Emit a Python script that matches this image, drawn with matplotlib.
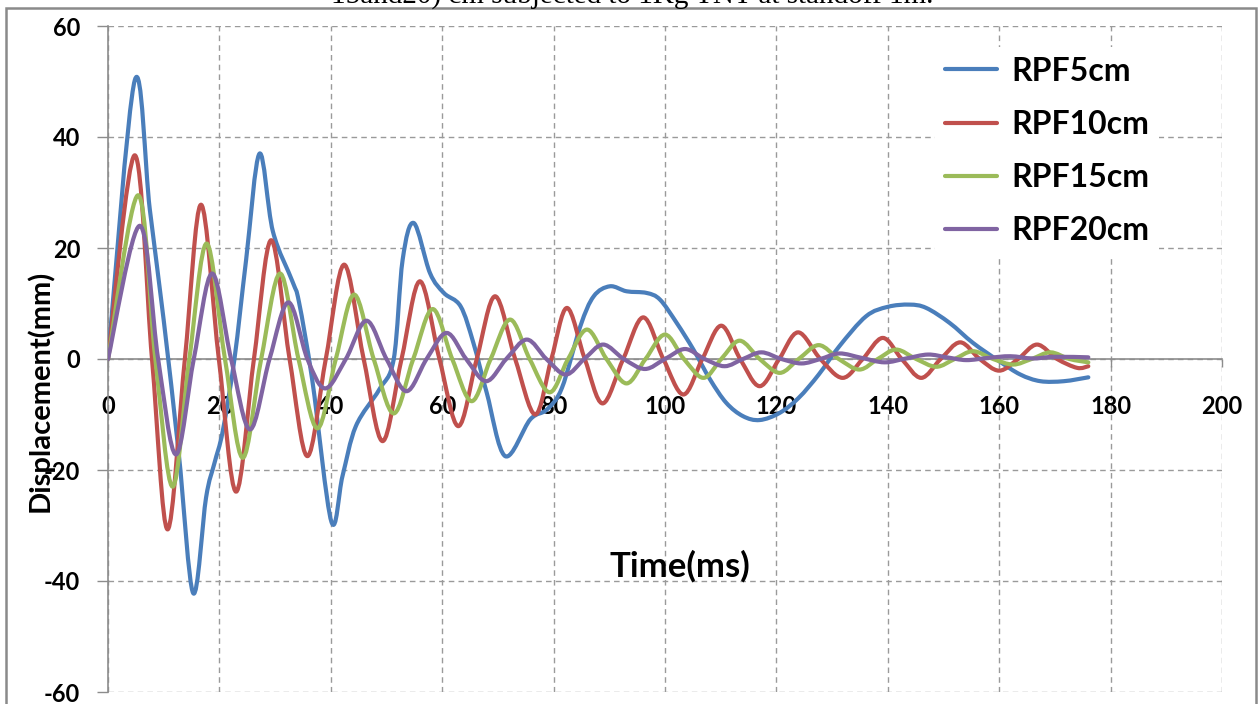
import matplotlib
matplotlib.use("Agg")
import matplotlib.pyplot as plt
from matplotlib.path import Path
from matplotlib.patches import PathPatch, Rectangle
from matplotlib.lines import Line2D

plt.rcParams["axes.unicode_minus"] = False

# ---------------- data ----------------
series_names = ["RPF5cm", "RPF10cm", "RPF15cm", "RPF20cm"]
series_colors = ["#4A7EBB", "#C0504D", "#9BBB59", "#8064A2"]

t_5 = [0, 4.8, 7.5, 10.0, 12.7, 15.3, 17.6, 19.1, 20.6, 22.7, 24.8, 27.2, 29.6,
       33.1, 34.3, 36.7, 40.1, 42.1, 44.5, 48.7, 51.3, 52.9, 54.9, 57.8, 60.3,
       63.3, 65.6, 68.0, 71.3, 75.8, 78.8, 81.5, 84.8, 87.2, 90.1, 93.1, 96.7,
       99.1, 102.1, 105.1, 108.1, 111.0, 114.0, 117.0, 120.6, 124.0, 127.6,
       131.3, 136.1, 140.0, 143.9, 146.9, 151.1, 155.3, 160.0, 163.8, 167.4,
       171.6, 176.0]
v_5 = [0, 50.2, 27.0, 7.0, -17.0, -42.2, -25.0, -18.8, -13.0, 0.0, 17.9, 37.0,
       23.0, 14.0, 10.2, -4.0, -29.3, -21.1, -12.1, -5.5, 0.0, 17.9, 24.5, 15.5,
       11.9, 9.5, 2.9, -6.1, -17.5, -10.9, -9.1, -5.2, 5.9, 11.3, 13.1, 12.2,
       11.9, 10.7, 6.5, 1.7, -3.7, -7.9, -10.3, -11.0, -9.7, -7.0, -2.8, 2.3,
       7.7, 9.4, 9.8, 9.2, 6.5, 2.9, -0.4, -2.8, -4.0, -4.0, -3.3]

t_10 = [0, 4.8, 7.9, 10.7, 13.8, 16.7, 19.9, 23.0, 26.2, 29.3, 32.6, 35.8, 39.1,
        42.4, 45.9, 49.3, 52.7, 56.0, 59.5, 62.9, 66.2, 69.5, 73.1, 76.7, 79.6,
        82.4, 85.6, 88.8, 92.5, 96.1, 99.7, 103.3, 106.7, 110.1, 113.5, 117.0,
        120.5, 123.9, 127.9, 131.9, 135.5, 139.1, 142.5, 146.0, 149.5, 153.0,
        156.5, 160.0, 163.4, 166.8, 170.4, 174.0, 176.0]
v_10 = [0, 36.7, 0, -30.7, 0, 27.8, 0, -23.9, 0, 21.4, 0, -17.5, 0, 17.0, 0,
        -14.8, 0, 14.0, 0, -12.1, 0, 11.3, 0, -10.0, 0, 9.2, 0, -8.0, 0, 7.5, 0,
        -6.4, 0, 6.0, 0, -4.9, 0, 4.8, 0, -3.4, 0, 3.8, 0, -3.4, 0, 3.0, 0, -2.1,
        0, 2.6, 0, -1.6, -1.3]

t_15 = [0, 5.4, 8.5, 11.6, 14.6, 17.7, 21.0, 24.2, 27.5, 30.9, 34.2, 37.6, 40.9,
        44.2, 47.7, 51.3, 54.8, 58.3, 61.8, 65.3, 68.7, 72.2, 75.7, 79.3, 82.6,
        86.0, 89.5, 93.1, 96.5, 100.0, 103.4, 106.9, 110.1, 113.4, 117.0, 120.6,
        124.0, 127.6, 131.2, 134.9, 138.2, 141.5, 145.1, 148.7, 152.0, 155.3,
        158.9, 162.5, 165.8, 169.2, 172.6, 176.0]
v_15 = [0, 29.5, 0, -23.0, 0, 20.8, 0, -17.8, 0, 15.4, 0, -12.5, 0, 11.6, 0,
        -9.8, 0, 9.0, 0, -7.6, 0, 7.1, 0, -6.0, 0, 5.3, 0, -4.4, 0, 4.4, 0, -3.4,
        0, 3.3, 0, -2.5, 0, 2.5, 0, -1.9, 0, 1.7, 0, -1.4, 0, 1.4, 0, -1.0, 0,
        1.2, 0, -0.6]

t_20 = [0, 5.7, 9.0, 12.2, 15.4, 18.7, 22.1, 25.5, 29.0, 32.4, 35.8, 39.0, 42.7,
        46.4, 50.0, 53.6, 57.2, 60.8, 64.3, 67.9, 71.5, 75.2, 78.7, 82.2, 85.5,
        88.9, 92.6, 96.4, 100.0, 103.6, 107.1, 110.7, 114.0, 117.3, 120.9, 124.5,
        127.9, 131.3, 135.3, 139.4, 143.3, 147.2, 150.6, 154.1, 158.0, 162.0,
        166.0, 170.0, 176.0]
v_20 = [0, 24.0, 0, -17.2, 0, 15.4, 0, -12.7, 0, 10.2, 0, -5.3, 0, 6.9, 0, -5.8,
        0, 4.7, 0, -4.0, 0, 3.5, 0, -2.8, 0, 2.6, 0, -1.8, 0, 1.8, 0, -1.3, 0,
        1.2, 0, -0.8, 0, 1.0, 0.2, -0.6, 0.1, 0.8, 0.3, -0.2, 0.2, 0.5, 0.1, 0.4,
        0.3]

x_ticks = [0, 20, 40, 60, 80, 100, 120, 140, 160, 180, 200]
y_ticks = [-60, -40, -20, 0, 20, 40, 60]
x_label = "Time(ms)"
y_label = "Displacement(mm)"
caption_text = "15and20) cm subjected to 1Kg TNT at standoff 1m."

series_t = [t_5, t_10, t_15, t_20]
series_v = [v_5, v_10, v_15, v_20]


def smooth_path(xs, ys):
    """Excel-style smoothed line: cubic Bezier through every data point."""
    pts = list(zip(xs, ys))
    n = len(pts)
    verts = [pts[0]]
    codes = [Path.MOVETO]
    for i in range(n - 1):
        p0 = pts[i - 1] if i > 0 else pts[i]
        p1 = pts[i]
        p2 = pts[i + 1]
        p3 = pts[i + 2] if i + 2 < n else pts[i + 1]
        c1 = (p1[0] + (p2[0] - p0[0]) / 6.0, p1[1] + (p2[1] - p0[1]) / 6.0)
        c2 = (p2[0] - (p3[0] - p1[0]) / 6.0, p2[1] - (p3[1] - p1[1]) / 6.0)
        verts += [c1, c2, p2]
        codes += [Path.CURVE4, Path.CURVE4, Path.CURVE4]
    return Path(verts, codes)


W, H = 1259, 704
fig = plt.figure(figsize=(W / 100, H / 100), dpi=100)
fig.patch.set_facecolor("white")

ax = fig.add_axes([108 / W, 1 - 692 / H, (1222 - 108) / W, (692 - 26) / H])
ax.set_xlim(0, 200)
ax.set_ylim(-60, 60)

font = "Lato"
grid_color = "#9a9a9a"

for xs, ys, col in zip(series_t, series_v, series_colors):
    patch = PathPatch(smooth_path(xs, ys), facecolor="none", edgecolor=col,
                      lw=3.0, capstyle="round", joinstyle="round", zorder=3)
    ax.add_patch(patch)

# grid
ax.set_xticks(x_ticks)
ax.set_yticks(y_ticks)
ax.grid(True, color=grid_color, linestyle=(0, (4, 3)), linewidth=1.0, zorder=0)
ax.set_axisbelow(True)

for s in ["top", "right"]:
    ax.spines[s].set_visible(False)
ax.spines["left"].set_color("#8c8c8c")
ax.spines["left"].set_linewidth(1.2)
ax.spines["bottom"].set_position(("data", 0))
ax.spines["bottom"].set_color("#8c8c8c")
ax.spines["bottom"].set_linewidth(1.2)
ax.spines["bottom"].set_zorder(2)

ax.tick_params(axis="x", direction="out", length=6, width=1.0, color="#8c8c8c",
               pad=20, labelsize=17)
ax.tick_params(axis="y", direction="out", length=8, width=1.0, color="#8c8c8c",
               pad=12, labelsize=17)
for lab in ax.get_xticklabels() + ax.get_yticklabels():
    lab.set_fontfamily(font)
    lab.set_fontweight("bold")
    lab.set_color("black")

fig.text(40 / W, 1 - 391 / H, y_label, rotation=90, ha="center", va="center",
         fontsize=21, fontweight="bold", fontfamily=font)

fig.text(680 / W, 1 - 566 / H, x_label, ha="center", va="center", fontsize=25,
         fontweight="bold", fontfamily=font)

handles = [Line2D([0], [0], color=c, lw=3.0, solid_capstyle="round")
           for c in series_colors]
leg = ax.legend(handles, series_names, loc="upper left",
                bbox_to_anchor=(935 / W, 1 - 47 / H),
                bbox_transform=fig.transFigure, frameon=True, borderaxespad=0,
                prop={"family": font, "weight": "bold", "size": 23},
                handlelength=1.65, handletextpad=0.45, labelspacing=0.76,
                borderpad=0.3)
leg.get_frame().set_facecolor("white")
leg.get_frame().set_edgecolor("none")
leg.get_frame().set_alpha(1.0)

# figure frame and clipped caption above it
fig.add_artist(Rectangle((6 / W, -0.02), (1256 - 6) / W, 1.02 - 8 / H,
                         transform=fig.transFigure, fill=False,
                         edgecolor="#8a8a8a", lw=1.8))
fig.text(632 / W, 1 - 4 / H, caption_text, ha="center", va="baseline",
         fontsize=21, fontfamily="Liberation Serif", color="black")

fig.savefig("out.png", dpi=100)
